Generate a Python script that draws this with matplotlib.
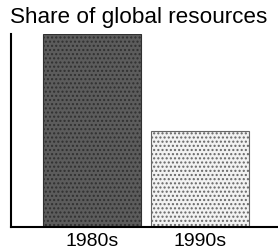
import matplotlib.pyplot as plt

decades = ['1980s', '1990s']
share = [100, 50]

plt.rcParams['font.family'] = ['Liberation Sans', 'DejaVu Sans']

fig = plt.figure(figsize=(2.78, 2.52), dpi=100)
ax = fig.add_axes([11 / 278, 1 - 227 / 252, 1 - 11 / 278, 193 / 252])

bars = ax.bar([0, 1], share, width=0.91, edgecolor='black', linewidth=0.8)
bars[0].set_facecolor('#5c5c5c')
bars[0].set_hatch('....')
bars[0].set_edgecolor('#303030')
bars[1].set_facecolor('#f2f2f2')
bars[1].set_hatch('....')
bars[1].set_edgecolor('#666666')

ax.set_xlim(-0.75, 1.72)
ax.set_ylim(0, 100)
ax.set_xticks([0, 1])
ax.set_xticklabels(decades, fontsize=14)
ax.tick_params(axis='x', length=0, pad=4)
ax.set_yticks([])
for side in ['top', 'right']:
    ax.spines[side].set_visible(False)
ax.spines['left'].set_linewidth(1.5)
ax.spines['bottom'].set_linewidth(1.5)

fig.text(0.035, 1 - 17 / 252, 'Share of global resources', fontsize=16.2, va='center', ha='left')

fig.savefig('out.png', dpi=100)
